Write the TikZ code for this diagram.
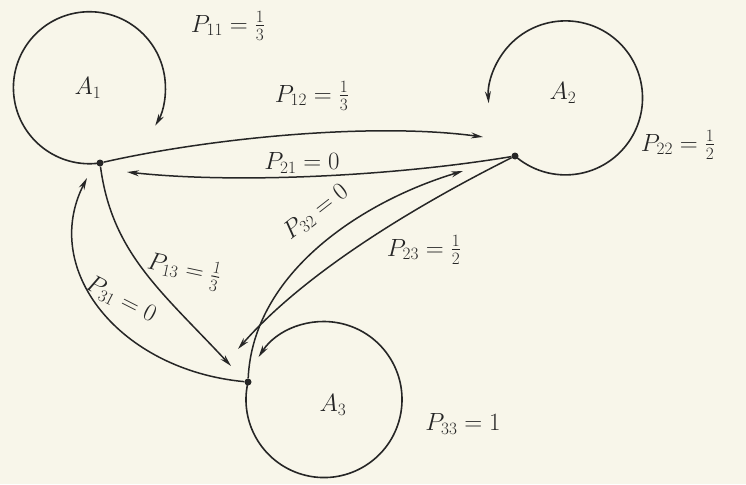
\documentclass[tikz,border=0pt]{standalone}
\usepackage{amsmath}
\usepackage{tikz}
\usetikzlibrary{arrows.meta}
\definecolor{paper}{HTML}{F8F6EA}
\definecolor{ink}{HTML}{262626}
\tikzset{
  statedot/.style={circle, fill=ink, inner sep=0pt, minimum size=7pt},
  loopline/.style={draw=ink, line width=1.6pt, -{Stealth[length=12pt, width=6pt]}},
  edge/.style={draw=ink, line width=1.5pt, -{Stealth[length=12pt, width=6pt]}},
  problabel/.style={font=\fontsize{25}{29}\selectfont, text=ink, inner sep=1pt},
  statelabel/.style={font=\fontsize{25}{29}\selectfont, text=ink},
}

\begin{document}
\begin{tikzpicture}[x=1pt, y=-1pt]

% paper
\fill[paper] (0,0) rectangle (746,484);
\useasboundingbox (0,0) rectangle (746,484);

% states (the dots where the loops start)
\node[statedot] (d1) at (100,163) {};
\node[statedot] (d2) at (515,156) {};
\node[statedot] (d3) at (248,382) {};

\node[statelabel] (A1) at (88,88) {$A_1$};
\node[statelabel] (A2) at (563,93) {$A_2$};
\node[statelabel] (A3) at (333,405) {$A_3$};

% arrow ends
\coordinate (t12) at (483,137);
\coordinate (t21) at (127,172);
\coordinate (t32) at (463,171);
\coordinate (t23) at (238,349);
\coordinate (t13) at (231,366);
\coordinate (t31) at (87,178);

% loops
\draw[loopline] (d1.center) arc[start angle=-82, end angle=-390, radius=76pt];
\draw[loopline] (d2.center) arc[start angle=-131, end angle=184, radius=77pt];
\draw[loopline] (d3.center) arc[start angle=167, end angle=507, radius=78pt];

% transitions
\draw[edge] (d1) .. controls +(110,-25) and +(-110,-15) .. (t12);
\draw[edge] (d2) .. controls +(-120,20) and +(110,12) .. (t21);
\draw[edge] (d3) .. controls +(5,-110) and +(-100,30) .. (t32);
\draw[edge] (d2) .. controls +(-90,45) and +(70,-80) .. (t23);
\draw[edge] (d1) .. controls +(12,90) and +(-70,-75) .. (t13);
\draw[edge] (d3) .. controls +(-128,-12) and +(-47,92) .. (t31);

% probabilities
\node[problabel] (l11) at (228,26) {$P_{11}=\frac{1}{3}$};
\node[problabel] (l12) at (312,96) {$P_{12}=\frac{1}{3}$};
\node[problabel] (l21) at (302,163) {$P_{21}=0$};
\node[problabel] (l22) at (678,145) {$P_{22}=\frac{1}{2}$};
\node[problabel, rotate=38] (l32) at (316,212) {$P_{32}=0$};
\node[problabel] (l23) at (424,250) {$P_{23}=\frac{1}{2}$};
\node[problabel, rotate=-12] (l13) at (184,270) {$P_{13}=\frac{1}{3}$};
\node[problabel, rotate=-27] (l31) at (121,300) {$P_{31}=0$};
\node[problabel] (l33) at (463,424) {$P_{33}=1$};

\end{tikzpicture}
\end{document}
